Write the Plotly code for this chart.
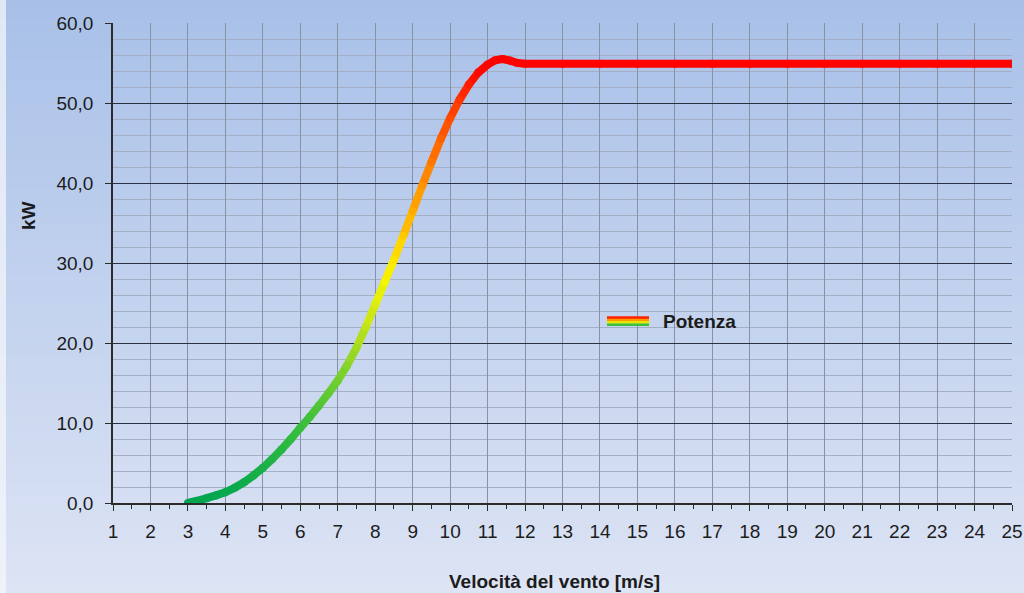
import plotly.graph_objects as go

# ---- data ----
speed = [3, 3.25, 3.5, 3.75, 4, 4.25, 4.5, 4.75, 5, 5.25, 5.5, 5.75, 6, 6.25, 6.5, 6.75, 7, 7.25, 7.5, 7.75,
         8, 8.25, 8.5, 8.75, 9, 9.25, 9.5, 9.75, 10, 10.25, 10.5, 10.75, 11, 11.2, 11.4, 11.6, 11.8, 12,
         13, 14, 15, 16, 17, 18, 19, 20, 21, 22, 23, 24, 25]
power = [0.0, 0.28, 0.6, 0.95, 1.35, 1.9, 2.6, 3.45, 4.4, 5.5, 6.7, 8.0, 9.4, 10.75, 12.2, 13.7, 15.3, 17.2, 19.4, 22.0,
         24.8, 27.6, 30.4, 33.4, 36.5, 39.6, 42.6, 45.5, 48.1, 50.4, 52.3, 53.8, 54.8, 55.35, 55.5, 55.3, 55.0, 54.9,
         54.9, 54.9, 54.9, 54.9, 54.9, 54.9, 54.9, 54.9, 54.9, 54.9, 54.9, 54.9, 54.9]
x_ticks = list(range(1, 26))
series_name = "Potenza"
x_title = "Velocità del vento [m/s]"
y_title = "kW"

# ---- style ----
W, H = 1024, 593
ML, MR, MT, MB = 113, 12, 23, 90
PW, PH = W - ML - MR, H - MT - MB
FONT = "Liberation Sans, Arial, sans-serif"
TXT = "#1c1c1c"


def px_to_paper_x(px):
    return (px - ML) / PW


def px_to_paper_y(py):
    return (H - MB - py) / PH


def hex_rgb(h):
    h = h.lstrip('#')
    return tuple(int(h[i:i + 2], 16) for i in (0, 2, 4))


def lerp_color(c0, c1, t):
    a, b = hex_rgb(c0), hex_rgb(c1)
    return "rgb(%d,%d,%d)" % tuple(round(a[i] + (b[i] - a[i]) * t) for i in range(3))


STOPS = [(0.00, '#00a550'), (0.18, '#3cbf3c'), (0.30, '#7fd22a'), (0.40, '#c4e41a'),
         (0.50, '#f5f500'), (0.56, '#ffe000'), (0.64, '#ffb400'), (0.72, '#ff9000'),
         (0.82, '#ff6000'), (0.90, '#ff3a00'), (0.97, '#ff0800'), (1.00, '#ff0000')]


def grad_color(f):
    f = max(0.0, min(1.0, f))
    for (p0, c0), (p1, c1) in zip(STOPS[:-1], STOPS[1:]):
        if f <= p1:
            return lerp_color(c0, c1, (f - p0) / (p1 - p0) if p1 > p0 else 0)
    return lerp_color(STOPS[-1][1], STOPS[-1][1], 0)


pmax = max(power)
LW = 8

fig = go.Figure()

# gradient-coloured curve: one segment per pair of consecutive data points
for i in range(len(speed) - 1):
    mid = (power[i] + power[i + 1]) / 2
    fig.add_trace(go.Scatter(
        x=[speed[i], speed[i + 1]], y=[power[i], power[i + 1]],
        mode="lines", line=dict(color=grad_color(mid / pmax), width=LW),
        showlegend=False, hoverinfo="skip"))

# round joints
fig.add_trace(go.Scatter(
    x=speed, y=power, mode="markers",
    marker=dict(size=LW, color=[grad_color(p / pmax) for p in power], line=dict(width=0)),
    showlegend=False, hoverinfo="skip"))

# legend entry (symbol drawn as stripes below)
fig.add_trace(go.Scatter(x=[None], y=[None], mode="lines", name=series_name,
                         line=dict(color="rgba(0,0,0,0)", width=0)))

shapes = []
# background gradient
N = 60
top_c, bot_c = '#a8c0e8', '#dde4f4'
strip_top, strip_bot = '#e0e8f6', '#eef2f9'
for i in range(N):
    py0, py1 = i * H / N, (i + 1) * H / N + 0.6
    t = (i + 0.5) / N
    shapes.append(dict(type="rect", xref="paper", yref="paper", layer="below",
                       x0=px_to_paper_x(6), x1=px_to_paper_x(W + 2),
                       y0=px_to_paper_y(py1), y1=px_to_paper_y(py0),
                       fillcolor=lerp_color(top_c, bot_c, t), line=dict(width=0)))
    shapes.append(dict(type="rect", xref="paper", yref="paper", layer="below",
                       x0=px_to_paper_x(-2), x1=px_to_paper_x(6),
                       y0=px_to_paper_y(py1), y1=px_to_paper_y(py0),
                       fillcolor=lerp_color(strip_top, strip_bot, t), line=dict(width=0)))

# legend symbol stripes
stripe_cols = ['#ff2000', '#ff9a00', '#e6e600', '#3cbf3c']
for k, c in enumerate(stripe_cols):
    py = 317.6 + k * 2.4
    shapes.append(dict(type="line", xref="paper", yref="paper", layer="above",
                       x0=px_to_paper_x(607), x1=px_to_paper_x(649),
                       y0=px_to_paper_y(py), y1=px_to_paper_y(py),
                       line=dict(color=c, width=2.6)))

fig.update_layout(
    width=W, height=H,
    margin=dict(l=ML, r=MR, t=MT, b=MB, pad=0, autoexpand=False),
    paper_bgcolor='#c4d2ee', plot_bgcolor='rgba(0,0,0,0)',
    separators=",.",
    font=dict(family=FONT, size=19, color=TXT),
    shapes=shapes,
    showlegend=True,
    legend=dict(x=px_to_paper_x(623), y=px_to_paper_y(321), xanchor="left", yanchor="middle",
                bgcolor="rgba(0,0,0,0)", borderwidth=0, itemwidth=30,
                font=dict(family=FONT, size=19, color=TXT, weight="bold")),
    annotations=[
        dict(text=x_title, xref="paper", yref="paper", x=px_to_paper_x(554), y=px_to_paper_y(581),
             xanchor="center", yanchor="middle", showarrow=False,
             font=dict(family=FONT, size=19, color=TXT, weight="bold")),
        dict(text=y_title, xref="paper", yref="paper", x=px_to_paper_x(28), y=px_to_paper_y(216),
             xanchor="center", yanchor="middle", showarrow=False, textangle=-90,
             font=dict(family=FONT, size=19, color=TXT, weight="bold")),
    ],
)

fig.update_xaxes(
    range=[1, 25], tickmode="array", tickvals=x_ticks, ticktext=[str(v) for v in x_ticks],
    automargin=False,
    showgrid=True, gridcolor="#8792a6", gridwidth=1,
    showline=True, linecolor="#2b2b2b", linewidth=1.5,
    ticks="outside", ticklen=6, tickcolor="#2b2b2b", tickwidth=1.2,
    ticklabelstandoff=4,
    minor=dict(tickmode="linear", tick0=1, dtick=0.5, ticks="outside", ticklen=4,
               tickcolor="#2b2b2b", tickwidth=1, showgrid=False),
    zeroline=False, fixedrange=True,
    tickfont=dict(family=FONT, size=19, color=TXT),
)
fig.update_yaxes(
    range=[0, 60], tickmode="linear", tick0=0, dtick=10, tickformat=".1f",
    automargin=False,
    showgrid=True, gridcolor="#2a3142", gridwidth=1,
    minor=dict(tickmode="linear", tick0=0, dtick=2, showgrid=True, gridcolor="#a3afc4",
               gridwidth=1, ticks=""),
    showline=True, linecolor="#2b2b2b", linewidth=1.5,
    ticks="outside", ticklen=6, tickcolor="#2b2b2b", tickwidth=1.2,
    ticklabelstandoff=8,
    zeroline=False, fixedrange=True,
    tickfont=dict(family=FONT, size=19, color=TXT),
)

fig.write_html("out.html", config={"displayModeBar": False},
               post_script="document.body.style.margin='0px';")
